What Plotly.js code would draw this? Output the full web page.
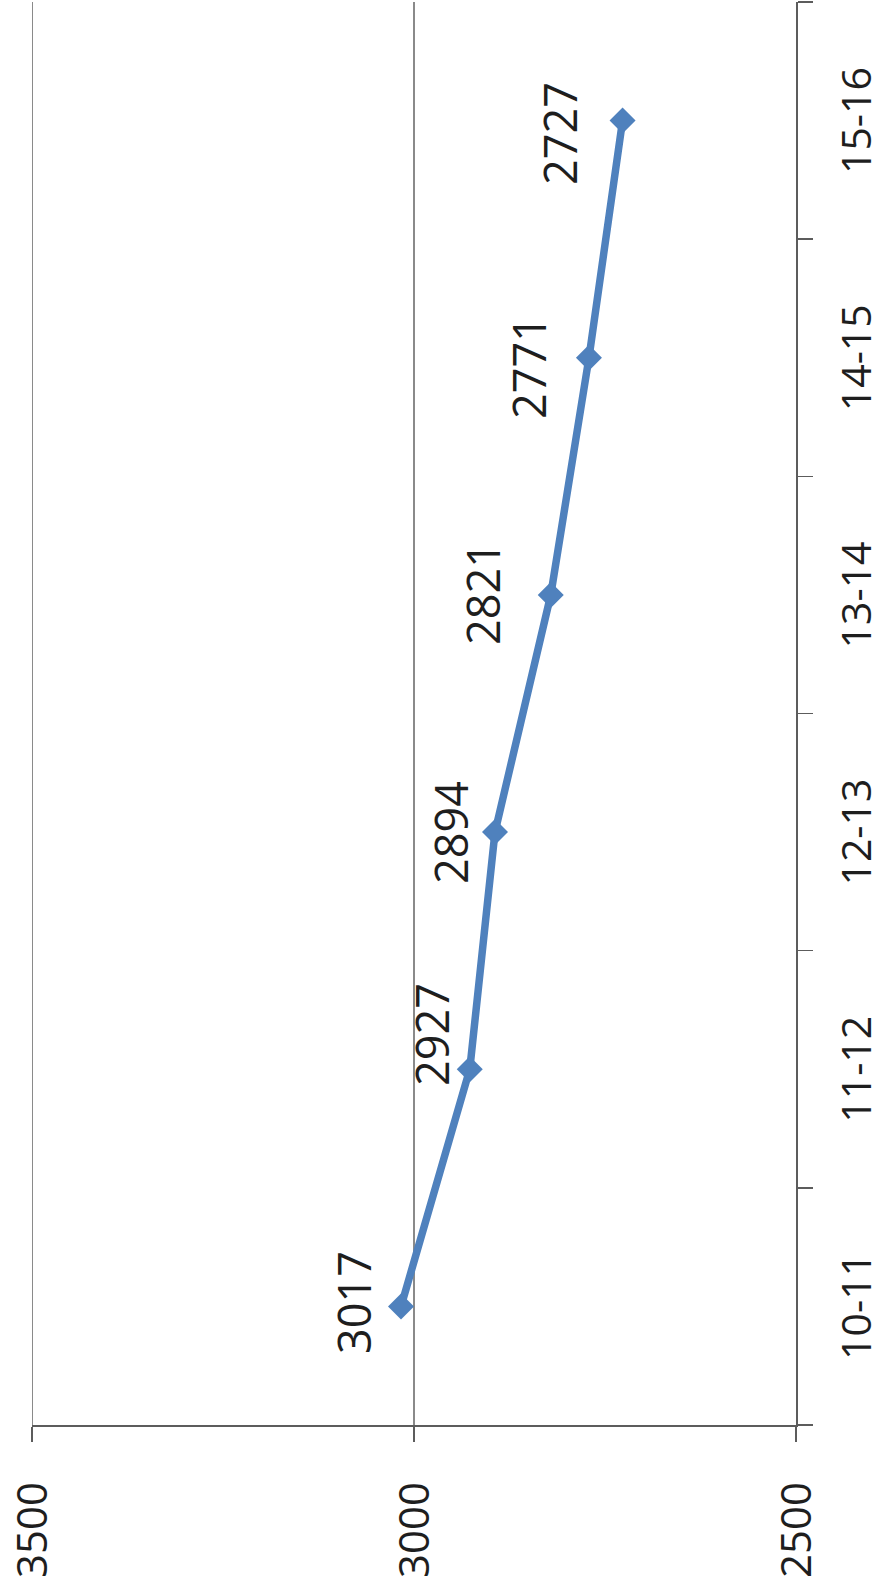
<!DOCTYPE html>
<html>
<head>
<meta charset="utf-8">
<script src="https://cdn.plot.ly/plotly-3.0.1.min.js"></script>
<style>
  html, body { margin: 0; padding: 0; background: #ffffff; overflow: hidden; }
  body { width: 882px; height: 1579px; position: relative; }
  #chart {
    position: absolute; left: 0; top: 0;
    width: 1579px; height: 882px;
    transform-origin: 0 0;
    transform: translate(0px, 1579px) rotate(-90deg);
  }
</style>
</head>
<body>
<div id="chart"></div>
<script>
// ---- data ----
const seasons = ["10-11", "11-12", "12-13", "13-14", "14-15", "15-16"];
const counts  = [3017, 2927, 2894, 2821, 2771, 2727];
const valueTicks = [2500, 3000, 3500];

// ---- label nudges (style, px) ----
const labelLift  = [48, 38, 44, 68, 60, 63];
const labelSlide = [4, 35, 0, 1, -10, -13];

const blue = "#4f81bd";
const textColor = "#1e1e1e";
const gridColor = "#3c3c3c";
const axisColor = "#5c5c5c";
const font = "Open Sans, Liberation Sans, sans-serif";

const trace = {
  type: "scatter",
  mode: "lines+markers",
  x: seasons,
  y: counts,
  line: { color: blue, width: 7.5 },
  marker: { symbol: "diamond", size: 20, color: blue, line: { width: 0 } },
  hoverinfo: "skip",
  cliponaxis: false
};

const annotations = seasons.map((s, i) => ({
  x: s, y: counts[i], xref: "x", yref: "y",
  text: String(counts[i]),
  showarrow: false,
  xanchor: "center", yanchor: "middle",
  yshift: labelLift[i], xshift: labelSlide[i],
  font: { family: font, size: 45, color: textColor }
}));

// gridlines at every value tick, including the one on the plot's far edge
const gridShapes = valueTicks.slice(1).map(v => ({
  type: "line", xref: "paper", yref: "y",
  x0: 0, x1: 1, y0: v, y1: v,
  line: { color: gridColor, width: 1.2 },
  layer: "below"
}));

const layout = {
  width: 1579, height: 882,
  margin: { l: 154, r: 2, t: 32, b: 86 },
  paper_bgcolor: "#ffffff",
  plot_bgcolor: "#ffffff",
  showlegend: false,
  xaxis: {
    type: "category",
    categoryorder: "array", categoryarray: seasons,
    range: [-0.5, 5.5],
    showgrid: false, zeroline: false,
    showline: true, linecolor: axisColor, linewidth: 1.5,
    ticks: "outside", tickson: "boundaries", ticklen: 15,
    tickcolor: axisColor, tickwidth: 1.5,
    ticklabelstandoff: 24,
    tickfont: { family: font, size: 41, color: textColor }
  },
  yaxis: {
    range: [2500, 3500],
    tickvals: valueTicks,
    ticktext: valueTicks.map(String),
    showgrid: false,
    zeroline: false,
    showline: true, linecolor: axisColor, linewidth: 1.5,
    ticks: "outside", ticklen: 15, tickcolor: axisColor, tickwidth: 1.5,
    ticklabelstandoff: 32,
    tickfont: { family: font, size: 42, color: textColor }
  },
  shapes: gridShapes,
  annotations: annotations
};

Plotly.newPlot("chart", [trace], layout, { staticPlot: true, displayModeBar: false });
</script>
</body>
</html>
